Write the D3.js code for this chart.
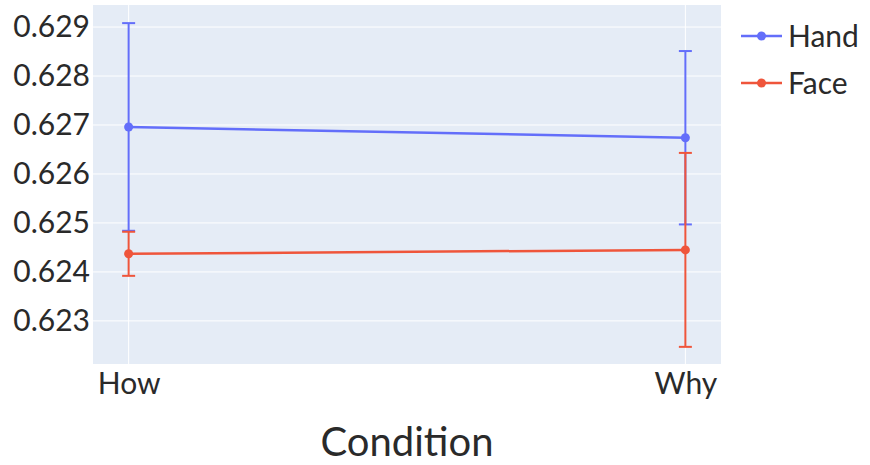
<!doctype html>
<html>
<head>
<style>
  html, body { margin: 0; padding: 0; background: #fff; }
  text { font-family: Lato, "Open Sans", sans-serif; fill: #2a2a2a; }
</style>
</head>
<body>
<svg id="chart" width="870" height="465"></svg>
<script src="https://d3js.org/d3.v7.min.js"></script>
<script>
// data
var conditions = ["How", "Why"];
var seriesNames = ["Hand", "Face"];
var handMean = [0.62696, 0.62674];
var handErr = [0.00212, 0.00177];
var faceMean = [0.62437, 0.62445];
var faceErr = [0.00045, 0.00198];
var yTicks = [0.623, 0.624, 0.625, 0.626, 0.627, 0.628, 0.629];
var colors = ["#636efa", "#ef553b"];

(function() {
  var series = [
    { name: seriesNames[0], mean: handMean, err: handErr, color: colors[0] },
    { name: seriesNames[1], mean: faceMean, err: faceErr, color: colors[1] }
  ];

  var plotL = 93, plotR = 721, plotT = 5, plotB = 364;
  var fontSize = "30px";
  var svg = d3.select("#chart");

  var x = d3.scaleLinear().domain([-0.064, 1.064]).range([plotL, plotR]);
  var y = d3.scaleLinear().domain([0.62212, 0.62945]).range([plotB, plotT]);

  // plot background
  svg.append("rect")
    .attr("x", plotL).attr("y", plotT)
    .attr("width", plotR - plotL).attr("height", plotB - plotT)
    .attr("fill", "#e5ecf6");

  // gridlines
  svg.append("g").selectAll("line").data(yTicks).join("line")
    .attr("x1", plotL).attr("x2", plotR)
    .attr("y1", function(d) { return y(d); }).attr("y2", function(d) { return y(d); })
    .attr("stroke", "#fff").attr("stroke-width", 1);
  svg.append("g").selectAll("line").data(conditions).join("line")
    .attr("x1", function(d, i) { return x(i); }).attr("x2", function(d, i) { return x(i); })
    .attr("y1", plotT).attr("y2", plotB)
    .attr("stroke", "#fff").attr("stroke-width", 1);

  // y axis labels
  var yAxis = d3.axisLeft(y).tickValues(yTicks).tickSize(0).tickPadding(3)
    .tickFormat(d3.format(".3f"));
  var gy = svg.append("g").attr("transform", "translate(" + plotL + ",0)").call(yAxis);
  gy.select(".domain").remove();
  gy.selectAll("text").style("font-size", fontSize).attr("fill", "#2a2a2a")
    .attr("font-family", "Lato, 'Open Sans', sans-serif");

  // x axis labels
  var xAxis = d3.axisBottom(x).tickValues([0, 1]).tickSize(0).tickPadding(9)
    .tickFormat(function(d) { return conditions[d]; });
  var gx = svg.append("g").attr("transform", "translate(0," + plotB + ")").call(xAxis);
  gx.select(".domain").remove();
  gx.selectAll("text").style("font-size", fontSize).attr("fill", "#2a2a2a")
    .attr("font-family", "Lato, 'Open Sans', sans-serif");

  // x axis title
  svg.append("text")
    .attr("x", (plotL + plotR) / 2).attr("y", 456)
    .attr("text-anchor", "middle")
    .style("font-size", "40px")
    .text("Condition");

  // series
  var line = d3.line()
    .x(function(d, i) { return x(i); })
    .y(function(d) { return y(d); });

  series.forEach(function(s) {
    var g = svg.append("g");
    // error bars
    s.mean.forEach(function(m, i) {
      var cx = x(i), hi = y(m + s.err[i]), lo = y(m - s.err[i]);
      g.append("line").attr("x1", cx).attr("x2", cx).attr("y1", hi).attr("y2", lo)
        .attr("stroke", s.color).attr("stroke-width", 2);
      [hi, lo].forEach(function(yy) {
        g.append("line").attr("x1", cx - 6.5).attr("x2", cx + 6.5).attr("y1", yy).attr("y2", yy)
          .attr("stroke", s.color).attr("stroke-width", 2);
      });
    });
    g.append("path").datum(s.mean)
      .attr("d", line).attr("fill", "none")
      .attr("stroke", s.color).attr("stroke-width", 2.5);
    g.selectAll("circle").data(s.mean).join("circle")
      .attr("cx", function(d, i) { return x(i); })
      .attr("cy", function(d) { return y(d); })
      .attr("r", 4.5).attr("fill", s.color);
  });

  // legend
  var legend = svg.append("g");
  series.forEach(function(s, i) {
    var ly = 36 + i * 47;
    legend.append("line").attr("x1", 741).attr("x2", 782).attr("y1", ly).attr("y2", ly)
      .attr("stroke", s.color).attr("stroke-width", 2.5);
    legend.append("circle").attr("cx", 761.5).attr("cy", ly).attr("r", 4.5).attr("fill", s.color);
    legend.append("text").attr("x", 788).attr("y", ly + 11)
      .style("font-size", fontSize).text(s.name);
  });
})();
</script>
</body>
</html>
